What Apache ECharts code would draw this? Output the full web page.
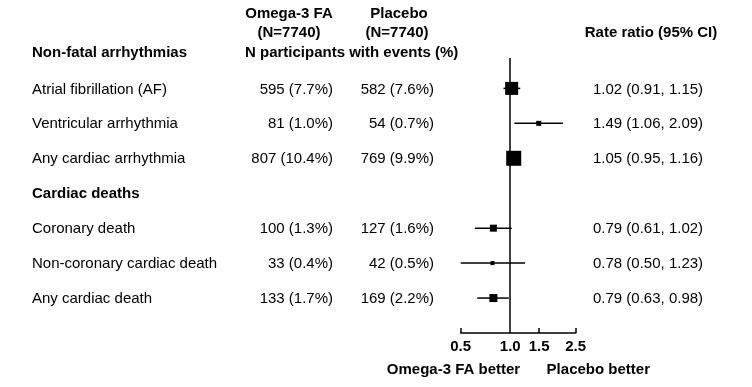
<!DOCTYPE html>
<html>
<head>
<meta charset="utf-8">
<script src="https://cdn.jsdelivr.net/npm/echarts@6/dist/echarts.min.js"></script>
<style>html,body{margin:0;padding:0;background:#fff}#c{width:752px;height:387px}</style>
</head>
<body>
<div id="c"></div>
<script>
// ---- data ----
const groupHeaders = ['Non-fatal arrhythmias', 'Cardiac deaths'];
const outcomes = ['Atrial fibrillation (AF)', 'Ventricular arrhythmia', 'Any cardiac arrhythmia',
  'Coronary death', 'Non-coronary cardiac death', 'Any cardiac death'];
const omegaEvents = ['595 (7.7%)', '81 (1.0%)', '807 (10.4%)', '100 (1.3%)', '33 (0.4%)', '133 (1.7%)'];
const placeboEvents = ['582 (7.6%)', '54 (0.7%)', '769 (9.9%)', '127 (1.6%)', '42 (0.5%)', '169 (2.2%)'];
const rateRatio = [1.02, 1.49, 1.05, 0.79, 0.78, 0.79];
const ciLow = [0.91, 1.06, 0.95, 0.61, 0.50, 0.63];
const ciHigh = [1.15, 2.09, 1.16, 1.02, 1.23, 0.98];
const xTicks = [0.5, 1.0, 1.5, 2.5];
const colHeaders = ['Omega-3 FA', '(N=7740)', 'Placebo', '(N=7740)', 'N participants with events (%)', 'Rate ratio (95% CI)'];
const sideLabels = ['Omega-3 FA better', 'Placebo better'];

// ---- layout / style ----
const rowIndex = [0, 1, 2, 4, 5, 6];      // row positions (3 = "Cardiac deaths" header)
const groupRow = [-1.05, 3];
const boxPx = [13, 5, 15, 7, 4, 8];
const FONT = 'Liberation Sans, Arial, sans-serif';

const chart = echarts.init(document.getElementById('c'), null, {renderer: 'canvas'});

const ciData = outcomes.map((o, k) => [rowIndex[k], ciLow[k], ciHigh[k], rateRatio[k], boxPx[k]]);

chart.setOption({
  animation: false,
  backgroundColor: '#fff',
  grid: {left: 460.7, width: 115, top: 58, height: 275},
  xAxis: {
    type: 'log', logBase: 10, min: 0.5, max: 2.5,
    axisLine: {show: true, onZero: false, lineStyle: {color: '#000', width: 1.5}},
    axisTick: {show: true, inside: true, length: 5, customValues: [0.5, 1.5, 2.5], lineStyle: {color: '#000', width: 1.5}},
    axisLabel: {customValues: xTicks, formatter: v => Number(v).toFixed(1), color: '#000',
      fontFamily: FONT, fontSize: 15, fontWeight: 'bold', margin: 6},
    splitLine: {show: false}, minorTick: {show: false}
  },
  yAxis: {type: 'value', inverse: true, min: -0.87, max: 7, show: false},
  series: [{
    type: 'custom',
    data: ciData,
    encode: {x: [1, 2, 3], y: 0},
    clip: false,
    renderItem: function (params, api) {
      const y = api.value(0);
      const a = api.coord([api.value(1), y]);
      const b = api.coord([api.value(2), y]);
      const c = api.coord([api.value(3), y]);
      const s = api.value(4);
      return {
        type: 'group',
        children: [
          {type: 'line', shape: {x1: a[0], y1: a[1], x2: b[0], y2: b[1]}, style: {stroke: '#000', lineWidth: 1.5}},
          {type: 'rect', shape: {x: c[0] - s / 2, y: c[1] - s / 2, width: s, height: s}, style: {fill: '#000'}}
        ]
      };
    },
    markLine: {
      silent: true, symbol: 'none', label: {show: false},
      lineStyle: {color: '#000', width: 1.5, type: 'solid'},
      data: [{xAxis: 1}]
    }
  }]
});

function yPix(r) { return chart.convertToPixel({yAxisIndex: 0}, r) + 1; }
const txt = (x, y, text, align, bold) => ({
  type: 'text', x: x, y: y,
  style: {text: text, fill: '#000', font: (bold ? 'bold ' : '') + '15px ' + FONT,
    textAlign: align, textVerticalAlign: 'middle'}
});

const g = [];
groupHeaders.forEach((h, k) => g.push(txt(32, yPix(groupRow[k]), h, 'left', true)));
outcomes.forEach((o, k) => {
  const y = yPix(rowIndex[k]);
  g.push(txt(32, y, o, 'left', false));
  g.push(txt(333, y, omegaEvents[k], 'right', false));
  g.push(txt(434, y, placeboEvents[k], 'right', false));
  g.push(txt(593, y, rateRatio[k].toFixed(2) + ' (' + ciLow[k].toFixed(2) + ', ' + ciHigh[k].toFixed(2) + ')', 'left', false));
});
g.push(txt(289, 14, colHeaders[0], 'center', true));
g.push(txt(289, 32.5, colHeaders[1], 'center', true));
g.push(txt(399, 14, colHeaders[2], 'center', true));
g.push(txt(397, 32.5, colHeaders[3], 'center', true));
g.push(txt(245, yPix(groupRow[0]), colHeaders[4], 'left', true));
g.push(txt(651, 32.5, colHeaders[5], 'center', true));
g.push(txt(453.5, 370, sideLabels[0], 'center', true));
g.push(txt(598.3, 370, sideLabels[1], 'center', true));

chart.setOption({graphic: {elements: g}});
</script>
</body>
</html>
